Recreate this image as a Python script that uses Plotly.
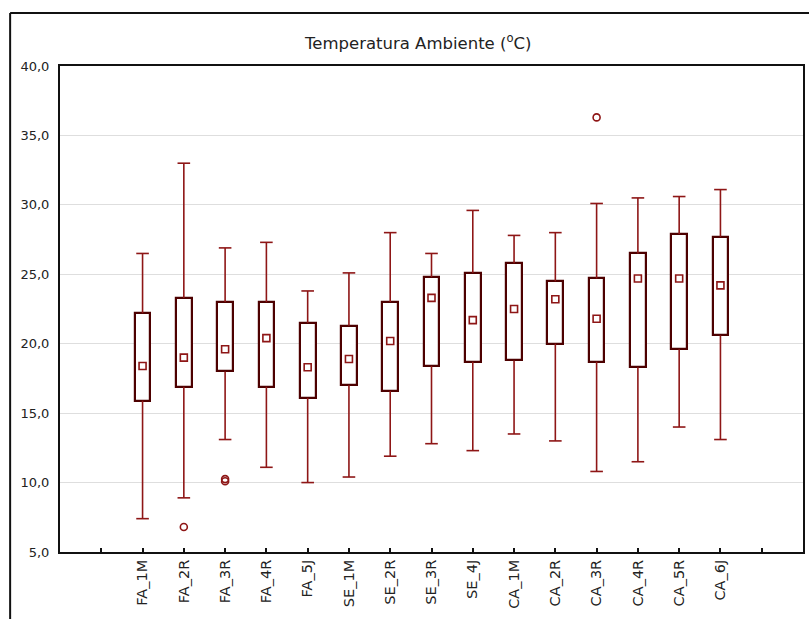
import plotly.graph_objects as go

# ---------------- data ----------------
categories = ["FA_1M", "FA_2R", "FA_3R", "FA_4R", "FA_5J", "SE_1M", "SE_2R", "SE_3R",
              "SE_4J", "CA_1M", "CA_2R", "CA_3R", "CA_4R", "CA_5R", "CA_6J"]
whisker_low = [7.4, 8.9, 13.1, 11.1, 10.0, 10.4, 11.9, 12.8, 12.3, 13.5, 13.0, 10.8, 11.5, 14.0, 13.1]
quartile_1 = [15.9, 16.9, 18.0, 16.9, 16.1, 17.0, 16.6, 18.4, 18.7, 18.8, 20.0, 18.7, 18.3, 19.6, 20.6]
median = [18.4, 19.0, 19.6, 20.4, 18.3, 18.9, 20.2, 23.3, 21.7, 22.5, 23.2, 21.8, 24.7, 24.7, 24.2]
quartile_3 = [22.2, 23.3, 23.0, 23.0, 21.5, 21.3, 23.0, 24.8, 25.1, 25.8, 24.5, 24.7, 26.5, 27.9, 27.7]
whisker_high = [26.5, 33.0, 26.9, 27.3, 23.8, 25.1, 28.0, 26.5, 29.6, 27.8, 28.0, 30.1, 30.5, 30.6, 31.1]
outlier_category = ["FA_2R", "FA_3R", "FA_3R", "CA_3R"]
outlier_value = [6.8, 10.1, 10.25, 36.3]
y_ticks = [5, 10, 15, 20, 25, 30, 35, 40]
y_tick_labels = ["5,0", "10,0", "15,0", "20,0", "25,0", "30,0", "35,0", "40,0"]
title_text = "Temperatura Ambiente (<sup>o</sup>C)"

# ---------------- styling ----------------
RED = "#8e1616"
DARK = "#4d0000"
FONT = "DejaVu Sans"

pos = {c: i + 1 for i, c in enumerate(categories)}
xs = [pos[c] for c in categories]

fig = go.Figure()

# boxes (25%-75%)
fig.add_trace(go.Bar(
    x=xs, y=[h - l for l, h in zip(quartile_1, quartile_3)], base=quartile_1,
    width=0.38, marker=dict(color="white", line=dict(color=DARK, width=2.2)),
    hoverinfo="skip", showlegend=False))

# whisker stems
wx, wy = [], []
for x, lo, q1, q3, hi in zip(xs, whisker_low, quartile_1, quartile_3, whisker_high):
    wx += [x, x, None, x, x, None]
    wy += [lo, q1, None, q3, hi, None]
fig.add_trace(go.Scatter(x=wx, y=wy, mode="lines", line=dict(color=RED, width=1.6),
                         hoverinfo="skip", showlegend=False))

# whisker caps
fig.add_trace(go.Scatter(
    x=xs + xs, y=whisker_low + whisker_high, mode="markers",
    marker=dict(symbol="line-ew", size=9, line=dict(color=RED, width=1.6)),
    hoverinfo="skip", showlegend=False))

# medians
fig.add_trace(go.Scatter(
    x=xs, y=median, mode="markers",
    marker=dict(symbol="square-open", size=7, color=RED, line=dict(color=RED, width=1.6)),
    showlegend=False))

# outliers
fig.add_trace(go.Scatter(
    x=[pos[c] for c in outlier_category], y=outlier_value, mode="markers",
    marker=dict(symbol="circle-open", size=7, color=RED, line=dict(color=RED, width=1.6)),
    showlegend=False))

tick_positions = list(range(0, len(categories) + 2))
tick_text = [""] + categories + [""]

fig.update_layout(
    width=809, height=619,
    margin=dict(l=60, r=4, t=66, b=67),
    paper_bgcolor="white", plot_bgcolor="white",
    font=dict(family=FONT, size=13, color="#222222"),
    title=dict(text=title_text, x=0.517, xanchor="center", y=1 - 43 / 619, yanchor="middle",
               xref="container", yref="container", font=dict(family=FONT, size=16.5, color="#222222")),
    bargap=0,
    xaxis=dict(range=[-1, 17], tickmode="array", tickvals=tick_positions, ticktext=tick_text,
               tickangle=-90, ticks="inside", ticklen=4, tickwidth=1.5, tickcolor="#111111",
               showgrid=False, zeroline=False, showline=True, linecolor="#111111", linewidth=2,
               mirror=True, tickfont=dict(size=14.5, family=FONT)),
    yaxis=dict(range=[5, 40], tickmode="array", tickvals=y_ticks, ticktext=y_tick_labels,
               ticks="", showgrid=True, gridcolor="#dedede", gridwidth=1, zeroline=False,
               showline=True, linecolor="#111111", linewidth=2, mirror=True,
               ticklabelstandoff=6, tickfont=dict(size=13, family=FONT)),
    shapes=[
        dict(type="line", xref="paper", yref="paper", x0=(10 - 60) / 745, x1=(812 - 60) / 745,
             y0=(552 - 13) / 486, y1=(552 - 13) / 486, line=dict(color="#111111", width=2)),
        dict(type="line", xref="paper", yref="paper", x0=(10 - 60) / 745, x1=(10 - 60) / 745,
             y0=(552 - 13) / 486, y1=(552 - 622) / 486, line=dict(color="#111111", width=2)),
    ],
)

fig.write_html("out.html")
